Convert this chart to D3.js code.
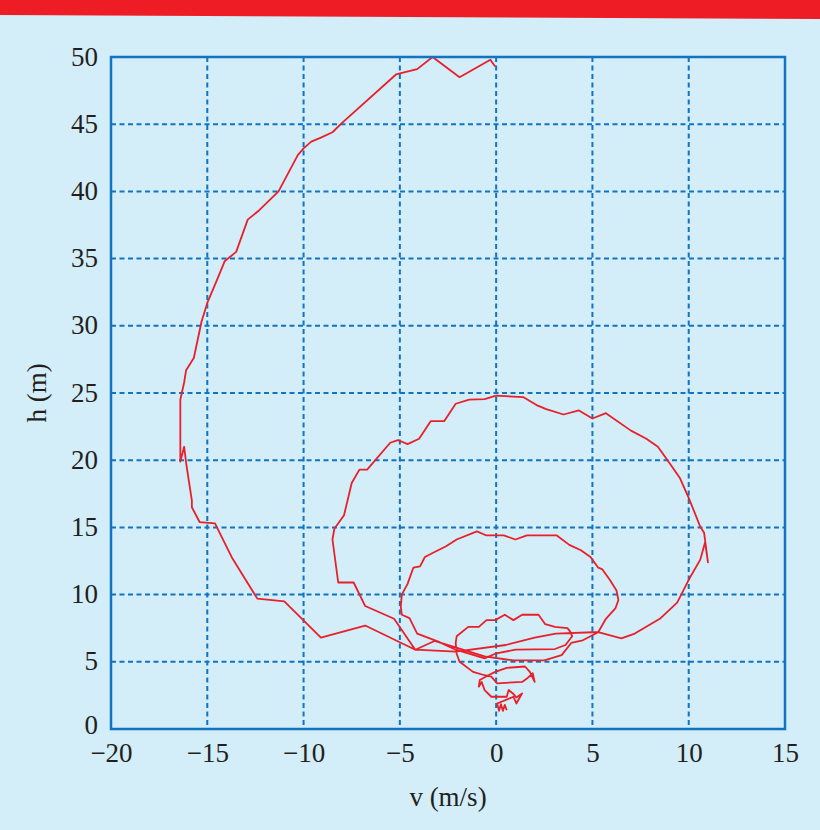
<!DOCTYPE html>
<html>
<head>
<meta charset="utf-8">
<script src="https://cdn.jsdelivr.net/npm/d3@7"></script>
<style>
  html, body { margin: 0; padding: 0; background: #d3edf9; }
  svg { display: block; }
</style>
</head>
<body>
<svg id="chart" width="820" height="830"></svg>
<script>
// ---- data (v in m/s, h in m) ----
const outerV = [-0.05,-0.3,-1.9,-3.3,-4.1,-5.2,-8.0,-8.5,-9.1,-9.6,-10.0,-10.3,-11.3,-12.3,-12.9,-13.5,-14.1,-14.5,-15.0,-15.3,-15.7,-16.1,-16.2,-16.4,-16.4,-16.4,-16.2,-16.1,-15.8,-15.8,-15.4,-14.6,-13.7,-12.4,-11.0,-9.1,-6.8,-4.2];
const outerH = [49.3,49.8,48.5,50.0,49.1,48.7,45.1,44.4,44.0,43.7,43.2,42.7,40.0,38.6,37.9,35.5,34.8,33.4,31.7,30.3,27.6,26.7,25.8,24.5,21.5,19.9,21.0,19.8,17.0,16.5,15.4,15.3,12.7,9.7,9.5,6.8,7.7,5.9];

const loop2V = [-2.1,0.5,2.0,3.1,5.0,5.3,6.5,7.2,8.5,9.4,10.0,10.6,10.85,11.0,10.9,10.8,10.6,10.0,9.55,8.9,8.4,7.8,7.0,5.7,5.0,4.3,3.5,2.6,2.1,1.4,0.0,-0.6,-1.4,-2.1,-2.7,-3.4,-4.0,-4.6,-5.1,-5.5,-6.7,-7.1,-7.5,-7.9,-8.4,-8.5,-8.2,-7.4,-6.8,-5.3,-4.2];
const loop2H = [5.75,6.25,6.8,7.1,7.2,7.2,6.75,7.1,8.2,9.4,11.1,12.6,13.9,12.4,13.5,14.6,15.05,17.2,18.65,20.0,21.0,21.6,22.2,23.5,23.1,23.7,23.4,23.8,24.1,24.7,24.8,24.55,24.5,24.2,22.9,22.9,21.6,21.2,21.5,21.3,19.3,19.3,18.3,15.9,14.9,14.1,10.9,10.9,9.15,8.2,5.9];

const loop3V = [-3.2,-0.6,0.9,2.5,3.4,3.9,4.5,5.3,5.7,6.2,6.35,6.25,5.9,5.5,5.3,4.9,4.4,3.8,3.15,1.6,1.0,0.4,-0.5,-1.0,-2.05,-2.6,-3.3,-3.7,-3.95,-4.3,-4.6,-4.9,-4.95,-4.9,-4.5,-4.1,-3.0,-2.1,-0.6];
const loop3H = [6.55,5.4,5.1,5.1,5.5,6.4,6.6,7.2,8.2,9.0,9.6,10.3,11.1,11.9,12.0,12.8,13.3,13.7,14.4,14.4,14.1,14.4,14.4,14.7,14.1,13.6,13.1,12.8,12.1,12.0,10.8,10.0,9.1,8.5,8.25,7.1,6.5,5.9,5.25];

const loop4V = [-0.05,1.0,3.05,3.6,3.95,3.85,3.7,3.05,2.55,2.2,1.35,0.9,0.45,-0.05,-0.5,-0.9,-1.45,-2.05,-2.1,-2.05,-1.9,-1.2,-0.6];
const loop4H = [5.6,5.9,5.95,6.25,6.9,7.25,7.5,7.6,7.8,8.5,8.5,8.1,8.5,8.1,8.1,7.6,7.6,6.9,6.4,5.6,5.0,4.25,4.0];

const loop5V = [-0.25,0.05,1.35,1.6,1.9,2.0,1.75,1.5,0.55,-0.05,-0.4,-0.85,-0.9,-0.75,-0.6,-0.25,-0.05,0.55,0.65,0.9,1.05,1.35,1.25,1.05,0.9,0.05,0.15,0.25,0.35,0.45,0.55];
const loop5H = [3.9,3.4,3.5,3.75,4.15,3.5,4.25,4.65,4.55,4.25,4.0,3.65,3.15,3.5,2.9,2.4,2.4,2.4,2.9,2.6,2.35,2.65,2.4,1.9,2.4,1.9,1.35,1.85,1.35,1.8,1.4];

const xTicks = [-20,-15,-10,-5,0,5,10,15];
const yTicks = [0,5,10,15,20,25,30,35,40,45,50];
const xLabel = "v (m/s)";
const yLabel = "h (m)";

// ---- layout ----
const svg = d3.select("#chart");
const L = 111, R = 785, T = 57, B = 729;
const x = d3.scaleLinear().domain([-20, 15]).range([L, R]);
const y = d3.scaleLinear().domain([0, 50]).range([B, T]);
const blue = "#1174c0";
const font = "'Liberation Serif', 'DejaVu Serif', serif";
const ink = "#231f20";
const fs = 27;

// background
svg.append("rect").attr("width", 820).attr("height", 830).attr("fill", "#d3edf9");
// red band at top
svg.append("polygon").attr("points", "0,0 820,0 820,19 0,15").attr("fill", "#ee1c25");

// grid
const grid = svg.append("g");
grid.selectAll("line.gx").data(xTicks.filter(d => d > -20 && d < 15)).join("line")
  .attr("x1", d => x(d)).attr("x2", d => x(d)).attr("y1", T).attr("y2", B)
  .attr("stroke", blue).attr("stroke-width", 2).attr("stroke-dasharray", "5,3.5");
grid.selectAll("line.gy").data(yTicks.filter(d => d > 0 && d < 50)).join("line")
  .attr("y1", d => y(d)).attr("y2", d => y(d)).attr("x1", L).attr("x2", R)
  .attr("stroke", blue).attr("stroke-width", 2).attr("stroke-dasharray", "5,3.5");

// trajectory
const V = [].concat(outerV, loop2V, loop3V, loop4V, loop5V);
const H = [].concat(outerH, loop2H, loop3H, loop4H, loop5H);
const pts = V.map((v, i) => [v, H[i]]);
const line = d3.line().x(d => x(d[0])).y(d => y(d[1]));
svg.append("path").datum(pts).attr("d", line)
  .attr("fill", "none").attr("stroke", "#e8202a").attr("stroke-width", 1.8)
  .attr("stroke-linejoin", "round");

// axes
const fmt = d => d < 0 ? "\u2212" + Math.abs(d) : String(d);
const xAxis = svg.append("g").attr("transform", `translate(0,${B})`)
  .call(d3.axisBottom(x).tickValues(xTicks).tickFormat(fmt).tickSize(0).tickPadding(14));
const yAxis = svg.append("g").attr("transform", `translate(${L},0)`)
  .call(d3.axisLeft(y).tickValues(yTicks).tickFormat(fmt).tickSize(0).tickPadding(13));
[xAxis, yAxis].forEach(g => {
  g.select(".domain").remove();
  g.selectAll("text").attr("font-family", font).attr("font-size", fs).attr("fill", ink);
});
xAxis.selectAll("text").attr("dy", "0.71em");
yAxis.selectAll("text").attr("dy", d => d === 0 ? "0.15em" : "0.3em");

// frame
svg.append("rect").attr("x", L).attr("y", T).attr("width", R - L).attr("height", B - T)
  .attr("fill", "none").attr("stroke", blue).attr("stroke-width", 2.5);

// axis labels
svg.append("text").attr("x", 448).attr("y", 806).attr("text-anchor", "middle")
  .attr("font-family", font).attr("font-size", fs).attr("fill", ink).text(xLabel);
svg.append("text").attr("transform", "translate(46,393) rotate(-90)").attr("text-anchor", "middle")
  .attr("font-family", font).attr("font-size", fs).attr("fill", ink).text(yLabel);
</script>
</body>
</html>
